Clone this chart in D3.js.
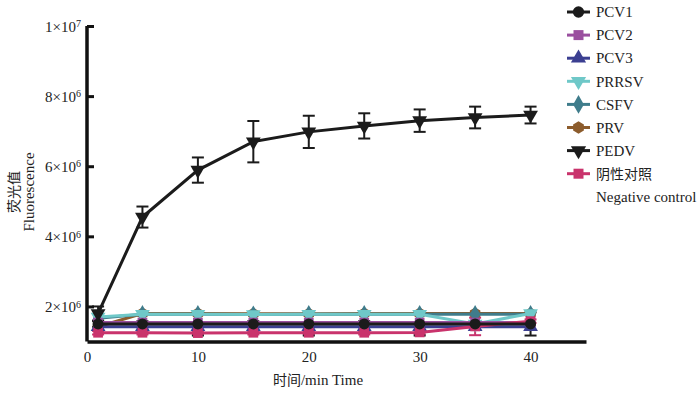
<!DOCTYPE html>
<html>
<head>
<meta charset="utf-8">
<script src="https://cdn.jsdelivr.net/npm/d3@7"></script>
<style>
  body { margin: 0; background: #fff; }
  text { font-family: "Liberation Serif", "Times New Roman", "Noto Sans CJK SC", serif; }
</style>
</head>
<body>
<div id="chart"></div>
<script>
// time points (min)
var times = [1, 5, 10, 15, 20, 25, 30, 35, 40]
// fluorescence values, x10^6
var pcv1 = [1.50, 1.50, 1.50, 1.50, 1.50, 1.50, 1.50, 1.50, 1.50]
var pcv1Err = [0.08, 0.08, 0.33, 0.08, 0.33, 0.08, 0.33, 0.08, 0.33]
var pcv2 = [1.54, 1.54, 1.54, 1.54, 1.54, 1.54, 1.54, 1.54, 1.54]
var pcv3 = [1.42, 1.42, 1.42, 1.42, 1.42, 1.42, 1.42, 1.42, 1.42]
var prrsv = [1.70, 1.78, 1.78, 1.77, 1.78, 1.78, 1.78, 1.50, 1.80]
var csfv = [1.66, 1.78, 1.78, 1.77, 1.78, 1.78, 1.78, 1.78, 1.78]
var prv = [1.42, 1.80, 1.80, 1.79, 1.79, 1.80, 1.80, 1.80, 1.80]
var pedv = [1.80, 4.55, 5.89, 6.70, 6.98, 7.15, 7.30, 7.39, 7.46]
var pedvErr = [0.2, 0.3, 0.36, 0.59, 0.46, 0.36, 0.32, 0.31, 0.24]
var negative = [1.25, 1.25, 1.24, 1.25, 1.25, 1.25, 1.26, 1.43, 1.58]
var negErr = [0.05, 0.05, 0.05, 0.05, 0.05, 0.05, 0.05, 0.25, 0.05]

var yTicks = [2, 4, 6, 8, 10]
var yTickLabels = [['2×10', '6'], ['4×10', '6'], ['6×10', '6'], ['8×10', '6'], ['1×10', '7']]
var xTicks = [0, 10, 20, 30, 40]

var series = [
  { name: 'PCV1', values: pcv1, err: pcv1Err, color: '#1b1b1b', shape: 'circle' },
  { name: 'PCV2', values: pcv2, color: '#9a4f9f', shape: 'square' },
  { name: 'PCV3', values: pcv3, color: '#3b3f91', shape: 'up' },
  { name: 'PRRSV', values: prrsv, color: '#6fc8c8', shape: 'down' },
  { name: 'CSFV', values: csfv, color: '#3f7c8b', shape: 'diamond' },
  { name: 'PRV', values: prv, color: '#8c5c2c', shape: 'hex' },
  { name: 'PEDV', values: pedv, err: pedvErr, color: '#1b1b1b', shape: 'down' },
  { name: '阴性对照', values: negative, err: negErr, color: '#c9336c', shape: 'square' }
]
// draw order (last on top)
var drawOrder = ['PRV', 'CSFV', 'PRRSV', 'PCV3', 'PCV2', '阴性对照', 'PCV1', 'PEDV']

var serif = '"Liberation Serif", "Times New Roman", serif'
var cjk = '"Noto Sans CJK SC", sans-serif'

var width = 700, height = 395
var svg = d3.select('#chart').append('svg').attr('width', width).attr('height', height)

var x = d3.scaleLinear().domain([0, 45]).range([87, 586])
var y = d3.scaleLinear().domain([1, 10]).range([341.5, 26])

var hexagon = {
  draw: function (ctx, size) {
    var r = Math.sqrt(size / 2.6)
    for (var k = 0; k < 6; k++) {
      var a = Math.PI / 6 + k * Math.PI / 3
      if (k === 0) ctx.moveTo(r * Math.cos(a), r * Math.sin(a))
      else ctx.lineTo(r * Math.cos(a), r * Math.sin(a))
    }
    ctx.closePath()
  }
}
function symbolPath(shape, s) {
  var types = { circle: d3.symbolCircle, square: d3.symbolSquare, up: d3.symbolTriangle, down: d3.symbolTriangle, diamond: d3.symbolDiamond, hex: hexagon }
  return d3.symbol(types[shape], s)()
}
function symbolTransform(shape) {
  return shape === 'down' ? ' rotate(180)' : ''
}

var plot = svg.append('g')
var order = drawOrder.map(function (nm) { return series.find(function (s) { return s.name === nm }) })

// error bars first
order.forEach(function (d) {
  if (!d.err) return
  var g = plot.append('g')
  d.values.forEach(function (v, i) {
    var e = d.err[i], t = times[i]
    g.append('line').attr('x1', x(t)).attr('x2', x(t))
      .attr('y1', y(Math.max(1, v - e))).attr('y2', y(v + e))
      .attr('stroke', d.color).attr('stroke-width', 2)
    ;[v - e, v + e].forEach(function (c) {
      if (c < 1.05) return
      g.append('line').attr('x1', x(t) - 6).attr('x2', x(t) + 6).attr('y1', y(c)).attr('y2', y(c))
        .attr('stroke', d.color).attr('stroke-width', 2)
    })
  })
})

// lines and markers
order.forEach(function (d) {
  var pts = d.values.map(function (v, i) { return { t: times[i], v: v } })
  var g = plot.append('g')
  g.append('path').datum(pts)
    .attr('fill', 'none').attr('stroke', d.color).attr('stroke-width', 3)
    .attr('d', d3.line().x(function (p) { return x(p.t) }).y(function (p) { return y(p.v) }))
  g.selectAll('path.m').data(pts).enter().append('path').attr('class', 'm')
    .attr('d', symbolPath(d.shape, 95))
    .attr('transform', function (p) { return 'translate(' + x(p.t) + ',' + y(p.v) + ')' + symbolTransform(d.shape) })
    .attr('fill', d.color)
})

// axes
var yAxis = svg.append('g').attr('transform', 'translate(' + x(0) + ',0)')
  .call(d3.axisRight(y).tickValues(yTicks).tickSize(7).tickFormat(''))
yAxis.select('.domain').attr('d', 'M0,' + y(10) + 'V' + y(1)).attr('stroke', '#111').attr('stroke-width', 3.5)
yAxis.selectAll('.tick line').attr('stroke', '#111').attr('stroke-width', 3)
yAxis.selectAll('.tick').each(function (t, i) {
  var lab = yTickLabels[i]
  var txt = d3.select(this).append('text').attr('x', -6).attr('dy', '0.35em')
    .attr('text-anchor', 'end').attr('fill', '#222').attr('font-size', 15).attr('font-family', serif)
  txt.append('tspan').text(lab[0])
  txt.append('tspan').attr('dy', '-0.45em').attr('font-size', 10).text(lab[1])
})

var xAxis = svg.append('g').attr('transform', 'translate(0,' + y(1) + ')')
  .call(d3.axisBottom(x).tickValues(xTicks).tickSize(0).tickPadding(10))
xAxis.select('.domain').attr('stroke', '#111').attr('stroke-width', 3.5)
xAxis.selectAll('.tick text').attr('font-size', 15).attr('fill', '#222').attr('font-family', serif)

// axis titles
var xt = svg.append('text').attr('x', 318).attr('y', 385).attr('text-anchor', 'middle')
  .attr('font-size', 15).attr('fill', '#222')
xt.append('tspan').attr('font-family', cjk).attr('font-size', 14).text('时间')
xt.append('tspan').attr('font-family', serif).text('/min Time')
var yt = svg.append('text').attr('transform', 'translate(0,192) rotate(-90)')
  .attr('text-anchor', 'middle').attr('font-size', 15).attr('fill', '#222')
yt.append('tspan').attr('x', 0).attr('y', 19).attr('font-family', cjk).attr('font-size', 14).text('荧光值')
yt.append('tspan').attr('x', 0).attr('y', 34).attr('font-family', serif).text('Fluorescence')

// legend
var legend = svg.append('g').attr('transform', 'translate(567,12)')
series.forEach(function (d, i) {
  var g = legend.append('g').attr('transform', 'translate(0,' + (i * 23.1) + ')')
  g.append('line').attr('x1', 0).attr('x2', 23).attr('stroke', d.color).attr('stroke-width', 3)
  g.append('path').attr('d', symbolPath(d.shape, 100))
    .attr('transform', 'translate(11.5,0)' + symbolTransform(d.shape)).attr('fill', d.color)
  g.append('text').attr('x', 29).attr('dy', '0.35em').attr('font-size', d.name === '阴性对照' ? 14 : 15).attr('fill', '#222')
    .attr('font-family', d.name === '阴性对照' ? cjk : serif).text(d.name)
})
legend.append('text').attr('x', 29).attr('y', 8 * 23.1).attr('dy', '0.35em')
  .attr('font-size', 15).attr('fill', '#222').attr('font-family', serif).text('Negative control')
</script>
</body>
</html>
